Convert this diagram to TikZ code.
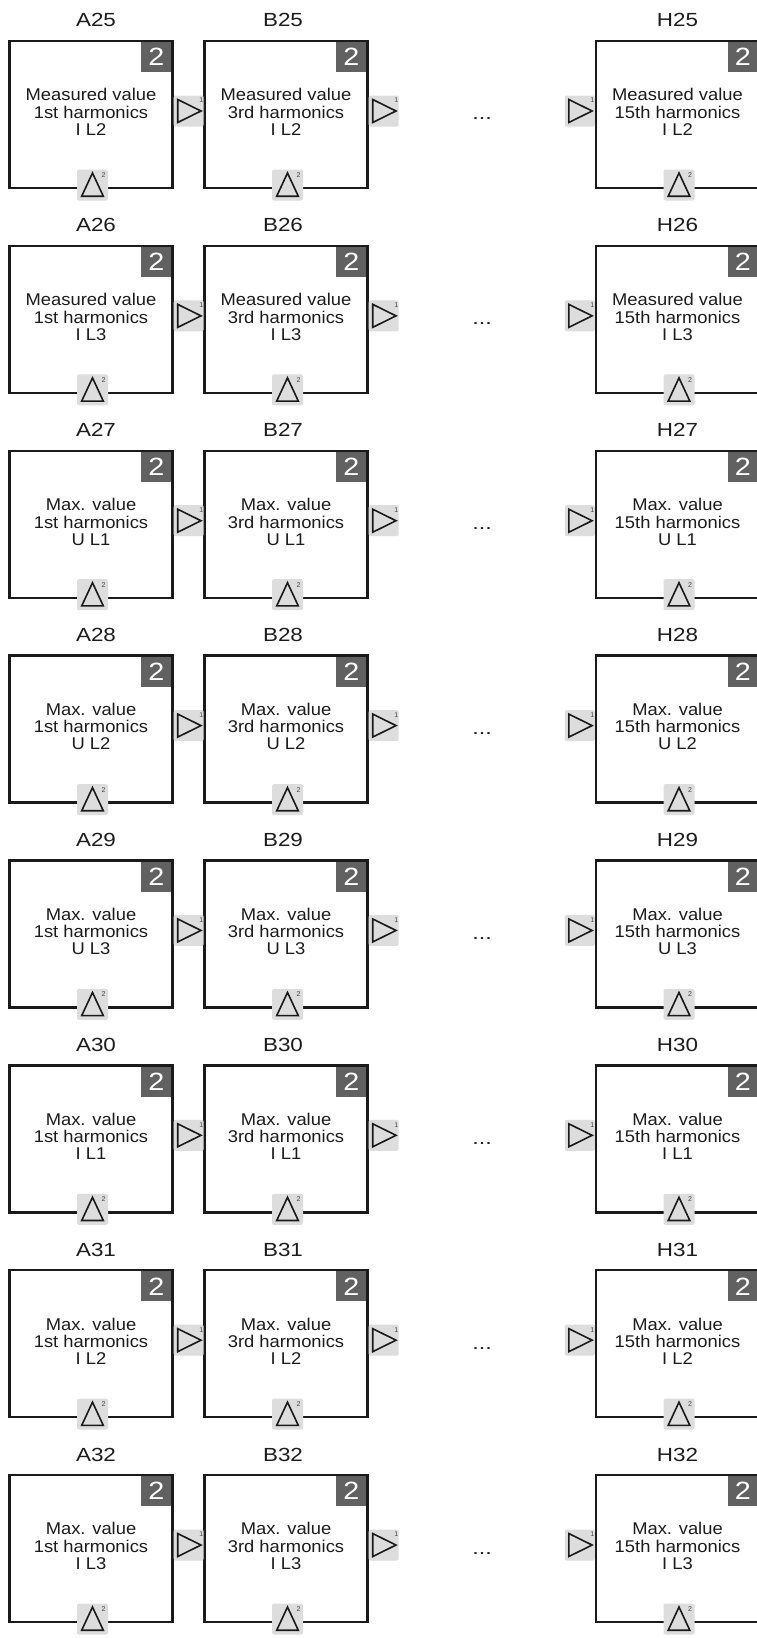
\documentclass[tikz,border=0pt]{standalone}
\usepackage{fontspec}
\setmainfont{Liberation Sans}
\usepackage{graphicx}
\definecolor{framecol}{HTML}{1A1A1A}
\definecolor{darkbox}{HTML}{616161}
\definecolor{portfill}{HTML}{DDDDDD}
\definecolor{txt}{HTML}{1C1C1C}
\definecolor{numcol}{HTML}{444444}
\tikzset{
  blockbox/.style={draw=framecol, line width=2.4pt, minimum width=163pt, minimum height=147pt,
    inner sep=0pt, outer sep=0pt, text=txt, font=\fontsize{17}{17}\selectfont},
  numbox/.style={fill=darkbox, minimum width=30pt, minimum height=30pt, inner sep=0pt, outer sep=0pt,
    text=white, font=\fontsize{25}{25}\selectfont},
  port/.style={fill=portfill, rounded corners=2pt, minimum width=30pt, minimum height=31pt, inner sep=0pt, outer sep=0pt},
  tri/.style={draw=framecol, line width=1.6pt, line join=miter},
  portnum/.style={font=\fontsize{7}{7}\selectfont, text=numcol, inner sep=0pt},
  header/.style={font=\fontsize{19}{19}\selectfont, text=txt, inner sep=0pt, anchor=base},
  dotsnode/.style={font=\fontsize{18}{18}\selectfont, text=txt, inner sep=0pt},
}
\newcommand\rightport[1]{%
  \node[port, anchor=west] (#1r) at ([shift={(1.2,70)}]#1.north east) {};
  \draw[tri] ([shift={(-11,-11.5)}]#1r.center) -- ([shift={(-11,11.5)}]#1r.center) -- ([shift={(12.3,0)}]#1r.center) -- cycle;
  \node[portnum] (#1r1) at ([shift={(12.5,-10.5)}]#1r.center) {1};
}
\newcommand\leftport[1]{%
  \node[port, anchor=east] (#1l) at ([shift={(-1.2,70)}]#1.north west) {};
  \draw[tri] ([shift={(-11,-11.5)}]#1l.center) -- ([shift={(-11,11.5)}]#1l.center) -- ([shift={(12.3,0)}]#1l.center) -- cycle;
  \node[portnum] (#1l1) at ([shift={(12.5,-10.5)}]#1l.center) {1};
}
\newcommand\bottomport[1]{%
  \node[port, minimum width=31pt] (#1b) at ([shift={(1.5,-3)}]#1.south) {};
  \draw[tri] ([shift={(0,-12)}]#1b.center) -- ([shift={(-10.8,11.2)}]#1b.center) -- ([shift={(10.8,11.2)}]#1b.center) -- cycle;
  \node[portnum] (#1b2) at ([shift={(11,-10)}]#1b.center) {2};
}
\begin{document}
\begin{tikzpicture}[x=1pt,y=-1pt]
  \useasboundingbox (0,0) rectangle (757,1638);
  \fill[white] (0,0) rectangle (757,1638);
  \foreach \r/\num/\ta/\tc in {0/25/Measured value/I L2, 1/26/Measured value/I L3,
      2/27/Max. value/U L1, 3/28/Max. value/U L2, 4/29/Max. value/U L3,
      5/30/Max. value/I L1, 6/31/Max. value/I L2, 7/32/Max. value/I L3}{
    \pgfmathsetmacro\yt{41+204.86*\r}
    \foreach \c/\cx/\hx/\ord in {A/91/96/1st, B/286/283/3rd, H/677.5/677.5/15th}{
      \node[header] (\c\num h) at (\hx,\yt-14) {\scalebox{1.18}[1]{\c\num}};
      \node[blockbox] (\c\num) at (\cx,\yt+73.5)
        {\scalebox{1.08}[1]{\begin{tabular}{@{}c@{}}\ta\\\ord\ harmonics\\\tc\end{tabular}}};
      \node[numbox, anchor=north east] (\c\num n) at ([shift={(-1.2,1.2)}]\c\num.north east) {\scalebox{1.15}[1]{2}};
      \bottomport{\c\num}
    }
    \rightport{A\num}
    \rightport{B\num}
    \leftport{H\num}
    \node[dotsnode] (D\num) at (482,\yt+78) {\scalebox{1.3}[1]{...}};
  }
\end{tikzpicture}
\end{document}
